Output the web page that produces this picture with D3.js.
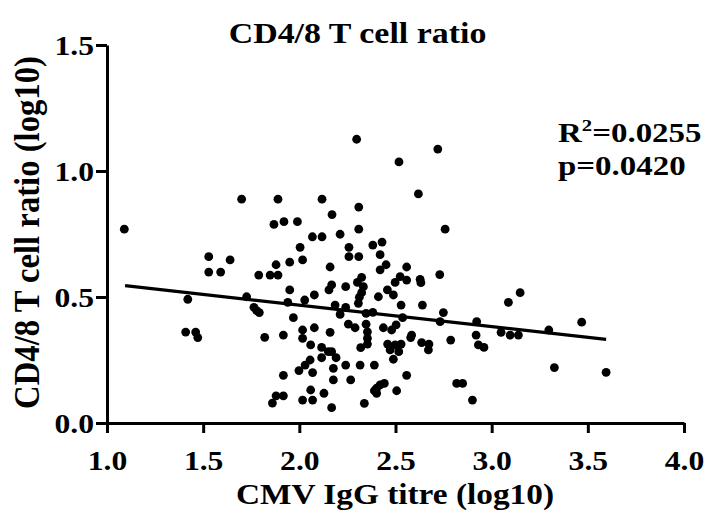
<!DOCTYPE html>
<html><head><meta charset="utf-8">
<script src="https://cdn.jsdelivr.net/npm/d3@7/dist/d3.min.js"></script>
<style>
html,body{margin:0;padding:0;background:#fff;}
svg{display:block;}
text{font-family:"Liberation Serif","Times New Roman",serif;font-weight:bold;fill:#000;}
</style></head>
<body>
<script>
const titleText = "CD4/8 T cell ratio";
const xLabel = "CMV IgG titre (log10)";
const yLabel = "CD4/8 T cell ratio (log10)";
const xTicks = [1.0,1.5,2.0,2.5,3.0,3.5,4.0];
const yTicks = [0.0,0.5,1.0,1.5];
const cmvTitre = [1.090,1.700,1.889,1.868,1.920,1.990,1.529,1.640,1.529,1.591,1.879,1.950,2.004,2.017,1.789,1.848,1.889,1.950,1.420,1.726,1.940,1.764,1.778,1.792,1.969,1.409,1.461,1.472,1.820,1.917,1.917,1.998,1.879,1.917,1.860,2.017,
2.298,2.720,2.518,2.619,2.118,2.309,2.170,2.309,2.758,2.068,2.118,2.212,2.258,2.382,2.430,2.258,2.309,2.420,2.160,2.451,2.420,2.558,2.730,
2.324,2.302,2.524,2.558,2.498,2.628,2.632,2.168,2.154,2.241,2.333,2.324,2.312,2.307,2.028,2.078,2.411,2.458,2.489,2.529,2.640,2.749,2.186,2.212,2.241,2.347,2.382,2.537,2.732,2.922,2.255,2.290,2.347,2.354,2.437,2.480,2.503,2.078,2.017,2.017,2.160,2.584,2.579,2.787,2.919,2.931,2.960,2.059,2.116,2.151,2.168,2.116,2.191,2.056,2.030,2.069,2.177,2.241,2.316,2.390,2.319,2.354,2.354,2.459,2.472,2.498,2.529,2.517,2.489,2.636,2.674,2.671,2.177,2.267,2.558,2.442,2.420,2.402,2.390,2.402,2.506,2.059,2.128,2.069,2.168,2.338,2.818,2.849,2.900,
3.148,3.087,3.468,3.049,3.096,3.139,3.297,3.326,3.595];
const cdRatio = [0.769,0.888,0.888,0.788,0.799,0.799,0.660,0.647,0.599,0.599,0.628,0.638,0.697,0.647,0.587,0.587,0.587,0.528,0.491,0.501,0.479,0.459,0.446,0.438,0.418,0.361,0.361,0.339,0.340,0.349,0.189,0.208,0.108,0.108,0.079,0.091,
1.126,1.087,1.036,0.909,0.888,0.857,0.827,0.769,0.769,0.739,0.739,0.749,0.697,0.706,0.718,0.660,0.660,0.668,0.619,0.628,0.608,0.619,0.589,
0.578,0.558,0.581,0.567,0.558,0.570,0.557,0.548,0.528,0.541,0.541,0.517,0.499,0.475,0.488,0.508,0.501,0.528,0.508,0.468,0.468,0.438,0.468,0.431,0.459,0.435,0.439,0.418,0.402,0.402,0.392,0.378,0.392,0.362,0.378,0.369,0.389,0.378,0.369,0.336,0.360,0.349,0.339,0.329,0.349,0.310,0.300,0.310,0.300,0.283,0.283,0.259,0.259,0.250,0.230,0.200,0.217,0.230,0.230,0.230,0.299,0.313,0.336,0.313,0.290,0.310,0.313,0.283,0.253,0.319,0.313,0.290,0.171,0.171,0.189,0.157,0.151,0.138,0.128,0.118,0.128,0.131,0.118,0.091,0.061,0.078,0.157,0.157,0.091,
0.517,0.479,0.400,0.360,0.349,0.349,0.369,0.220,0.201];
const fitX = [1.094, 3.595];
const fitY = [0.545, 0.332];
const statLines = ["R", "2", "=0.0255", "p=0.0420"];

const W = 713, H = 514;
const TSX = 1.15;
const svg = d3.select("body").append("svg").attr("width", W).attr("height", H);
const x = d3.scaleLinear().domain([1,4]).range([107,684]);
const y = d3.scaleLinear().domain([0,1.5]).range([423,45]);

const gx = svg.append("g").attr("transform","translate(0,423)")
  .call(d3.axisBottom(x).tickValues(xTicks).tickFormat(d3.format(".1f")).tickSize(10).tickSizeOuter(0));
const gy = svg.append("g").attr("transform","translate(107,0)")
  .call(d3.axisLeft(y).tickValues(yTicks).tickFormat(d3.format(".1f")).tickSize(11).tickSizeOuter(0));
[gx,gy].forEach(g=>{
  g.selectAll("path,line").attr("stroke","#000").attr("stroke-width",3);
  g.selectAll("text").style("font-size","27.5px").style("font-family","'Liberation Serif',serif").style("font-weight","bold").attr("fill","#000")
    .attr("transform",`scale(${TSX},1)`);
});
gx.selectAll(".tick text").attr("y",47).attr("dy",0);
gy.selectAll(".tick text").attr("x",-13/TSX).attr("dy","0.35em");

svg.append("g").selectAll("circle")
  .data(cmvTitre.map((v,i)=>[v,cdRatio[i]]))
  .join("circle")
  .attr("cx",d=>x(d[0])).attr("cy",d=>y(d[1])).attr("r",4.4).attr("fill","#000");

svg.append("line")
  .attr("x1",x(fitX[0])).attr("y1",y(fitY[0]))
  .attr("x2",x(fitX[1])).attr("y2",y(fitY[1]))
  .attr("stroke","#000").attr("stroke-width",3.2);

function label(px, py, size, sx, anchor, str){
  return svg.append("text").attr("transform",`translate(${px},${py}) scale(${sx},1)`)
    .attr("text-anchor",anchor).style("font-size",size+"px").text(str);
}
label(357.5, 43, 28.5, 1.19, "middle", titleText);
label(395, 504, 28.5, 1.17, "middle", xLabel);
svg.append("text").attr("transform","translate(39,232.5) rotate(-90) scale(1,1.1)").attr("text-anchor","middle")
  .style("font-size","32.7px").text(yLabel);

const SSX = 1.22;
const st = svg.append("text").attr("transform",`translate(558,142) scale(${SSX},1)`).style("font-size","27px");
st.append("tspan").text(statLines[0]);
st.append("tspan").attr("dy",-11).style("font-size","17px").text(statLines[1]);
st.append("tspan").attr("dy",11).text(statLines[2]);
svg.append("text").attr("transform",`translate(558,175) scale(${SSX},1)`).style("font-size","27px").text(statLines[3]);
</script>
</body></html>
